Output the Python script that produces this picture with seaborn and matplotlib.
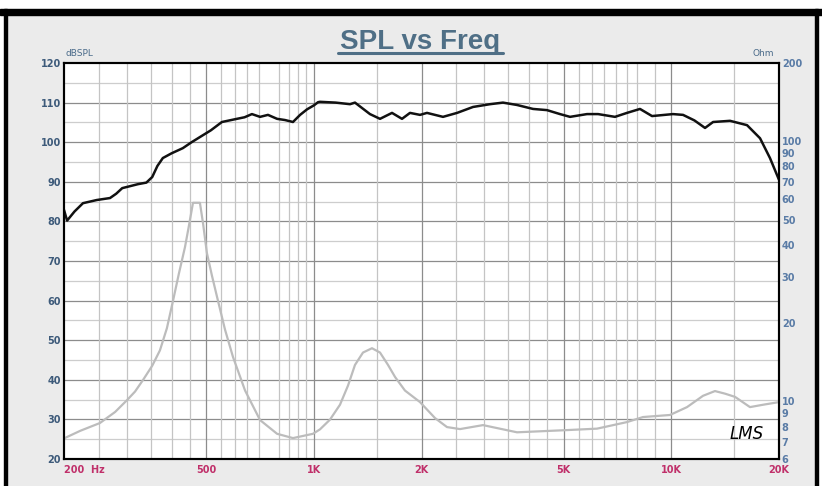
import matplotlib
matplotlib.use("Agg")
import matplotlib.pyplot as plt
from matplotlib.patches import Rectangle
from matplotlib.lines import Line2D
from matplotlib.ticker import NullLocator, FixedLocator
import seaborn as sns

# Courbe SPL (dB)
spl_freq = [200, 204, 214, 226, 247, 269, 280, 291, 322, 340, 353, 365, 378, 400, 430, 455,
            480, 515, 553, 609, 640, 671, 707, 744, 789, 830, 874, 915, 957, 1000, 1027, 1040,
            1150, 1262, 1303, 1435, 1531, 1654, 1764, 1857, 1981, 2072, 2297, 2515, 2787,
            3110, 3380, 3700, 4102, 4488, 4880, 5206, 5807, 6235, 6954, 7512, 8170, 8828,
            10100, 10780, 11600, 12420, 13080, 14590, 16280, 17700, 18870, 20000]
spl_db = [82.9, 80.2, 82.5, 84.6, 85.4, 85.9, 87.0, 88.4, 89.4, 89.8, 91.2, 94.0, 96.0, 97.2,
          98.5, 100.0, 101.3, 103.0, 105.1, 105.9, 106.3, 107.1, 106.4, 106.9, 105.9, 105.6,
          105.1, 106.9, 108.3, 109.3, 110.1, 110.2, 110.0, 109.6, 110.0, 107.1, 105.9, 107.4,
          105.9, 107.4, 106.9, 107.4, 106.4, 107.4, 108.9, 109.6, 110.0, 109.4, 108.4,
          108.1, 107.1, 106.4, 107.1, 107.1, 106.4, 107.4, 108.4, 106.6, 107.1, 106.9,
          105.5, 103.6, 105.1, 105.4, 104.3, 101.0, 96.0, 90.5]

# Courbe d'impédance (Ohm)
imp_freq = [200, 222, 252, 278, 300, 316, 333, 353, 371, 388, 404, 419, 436, 447, 459, 480,
            490, 502, 519, 536, 564, 594, 642, 707, 789, 874, 994, 1040, 1109, 1183, 1246,
            1303, 1372, 1454, 1531, 1612, 1687, 1798, 1981, 2182, 2357, 2563, 2972, 3700,
            5106, 6194, 7512, 8330, 9910, 11060, 12260, 13240, 14130, 15070, 16590, 18040,
            20000]
imp_ohm = [7.2, 7.7, 8.25, 9.1, 10.1, 10.9, 12.1, 13.7, 15.7, 19.1, 24.5, 30.9, 39.2, 47.2,
           58.0, 58.0, 48.1, 37.2, 30.3, 25.2, 18.9, 14.8, 11.0, 8.47, 7.5, 7.22, 7.5, 7.8,
           8.5, 9.7, 11.5, 13.8, 15.4, 16.0, 15.4, 13.8, 12.4, 11.0, 9.93, 8.62, 7.96, 7.82,
           8.1, 7.6, 7.75, 7.85, 8.32, 8.7, 8.86, 9.5, 10.5, 10.95, 10.7, 10.4, 9.5, 9.7, 9.93]

x_ticks = [200, 500, 1000, 2000, 5000, 10000, 20000]
x_labels = ["200  Hz", "500", "1K", "2K", "5K", "10K", "20K"]
db_ticks = [20, 30, 40, 50, 60, 70, 80, 90, 100, 110, 120]
ohm_ticks = [6, 7, 8, 9, 10, 20, 30, 40, 50, 60, 70, 80, 90, 100, 200]

grid_freq = [250, 300, 350, 400, 450, 500, 550, 600, 650, 700, 800, 850, 900, 950, 1000,
             1500, 2000, 2500, 3000, 3500, 4000, 4500, 5000, 5500, 6000, 6500, 7000, 7500,
             8000, 9000, 10000, 15000]
grid_freq_dark = [500, 1000, 2000, 5000, 10000]

sns.set_style("white")
plt.rcParams["font.family"] = ["DejaVu Sans"]

W, H = 822, 486
fig = plt.figure(figsize=(W / 100, H / 100), dpi=100)
fig.patch.set_facecolor("#ebebeb")

# cadre noir
fig.add_artist(Rectangle((0, 1 - 9 / H), 1, 9 / H, transform=fig.transFigure, color="white", zorder=0))
fig.add_artist(Rectangle((0, 1 - 15 / H), 1, 6 / H, transform=fig.transFigure, color="black", zorder=1))
fig.add_artist(Rectangle((0, 0), 4 / W, 1, transform=fig.transFigure, color="white", zorder=0))
fig.add_artist(Rectangle((4 / W, 0), 3 / W, 1 - 9 / H, transform=fig.transFigure, color="black", zorder=1))
fig.add_artist(Rectangle((818 / W, 0), 4 / W, 1, transform=fig.transFigure, color="white", zorder=0))
fig.add_artist(Rectangle((815 / W, 0), 3 / W, 1 - 9 / H, transform=fig.transFigure, color="black", zorder=1))

ax = fig.add_axes([64 / W, 27 / H, 715 / W, 396 / H])
ax.set_facecolor("white")
ax.set_xscale("log")
ax.set_xlim(200, 20000)
ax.set_ylim(20, 120)

# grille
for v in range(25, 120, 5):
    ax.axhline(v, color="#8c8c8c" if v % 10 == 0 else "#cdcdcd", lw=0.9, zorder=0)
for f in grid_freq:
    ax.axvline(f, color="#8c8c8c" if f in grid_freq_dark else "#c4c4c4", lw=0.9, zorder=0)

sns.lineplot(x=spl_freq, y=spl_db, ax=ax, color="#111111", lw=1.8, zorder=3)

ax2 = ax.twinx()
sns.lineplot(x=imp_freq, y=imp_ohm, ax=ax2, color="#bcbcbc", lw=1.6)
ax2.set_yscale("log")
ax2.set_ylim(6, 200)
ax2.set_xlim(200, 20000)

ax.set_xticks(x_ticks)
ax.set_xticklabels(x_labels)
ax.xaxis.set_minor_locator(NullLocator())
ax.set_yticks(db_ticks)
ax2.yaxis.set_major_locator(FixedLocator(ohm_ticks))
ax2.yaxis.set_minor_locator(NullLocator())
ax2.set_yticklabels([str(t) for t in ohm_ticks])

ax.tick_params(axis="x", length=0, pad=4, labelsize=7, labelcolor="#c0306a")
ax.tick_params(axis="y", length=0, pad=2, labelsize=7, labelcolor="#3d5a7a")
ax2.tick_params(axis="y", length=0, pad=2, labelsize=7, labelcolor="#5a7ca6")
for lab in ax.get_xticklabels() + ax.get_yticklabels() + ax2.get_yticklabels():
    lab.set_fontweight("bold")
ax.get_xticklabels()[0].set_horizontalalignment("left")

ax.set_xlabel("")
ax.set_ylabel("")
ax2.set_ylabel("")
for a in (ax, ax2):
    for s in a.spines.values():
        s.set_color("black")
        s.set_linewidth(1.5)
        s.set_visible(True)

fig.text(65 / W, 1 - 56 / H, "dBSPL", fontsize=6.5, color="#4a6b8a", ha="left", va="baseline")
fig.text(752 / W, 1 - 56 / H, "Ohm", fontsize=6.5, color="#4a6b8a", ha="left", va="baseline")

fig.text(420.5 / W, 1 - 49 / H, "SPL vs Freq", fontsize=20, fontweight="bold",
         family="Liberation Sans", color="#4f6f86", ha="center", va="baseline")
fig.add_artist(Line2D([338 / W, 503 / W], [1 - 53 / H, 1 - 53 / H], transform=fig.transFigure,
                      color="#4f6f86", lw=2.2))

ax.text(0.955, 0.04, "LMS", transform=ax.transAxes, fontsize=12, fontstyle="oblique",
        family="DejaVu Sans", color="black", ha="center", va="bottom", zorder=5)

fig.savefig("out.png", dpi=100, facecolor=fig.get_facecolor())
